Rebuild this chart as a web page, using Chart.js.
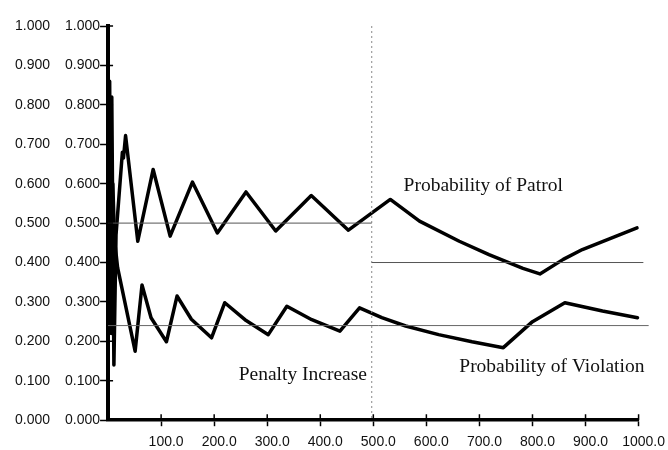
<!DOCTYPE html>
<html>
<head>
<meta charset="utf-8">
<script src="https://cdn.jsdelivr.net/npm/chart.js@4.4.1/dist/chart.umd.min.js"></script>
<style>
  html, body { margin: 0; padding: 0; background: #fff; }
  #wrap { width: 668px; height: 450px; }
</style>
</head>
<body>
<div id="wrap"><canvas id="c" width="668" height="450"></canvas></div>
<script>
// Penalty level on the x axis, probabilities on the y axis
const patrolX = [0, 4, 7, 11, 15, 27, 29, 33, 56, 85, 117, 159, 206, 260, 316, 383, 453, 532, 587, 662, 718, 782, 814, 858, 894, 997];
const patrolY = [0.93, 0.30, 0.82, 0.14, 0.47, 0.68, 0.665, 0.722, 0.454, 0.636, 0.467, 0.604, 0.475, 0.579, 0.480, 0.570, 0.482, 0.560, 0.505, 0.454, 0.420, 0.385, 0.371, 0.408, 0.433, 0.488];

const violationX = [0, 3, 6, 9, 12, 18, 51, 64, 81, 110, 130, 157, 195, 220, 258, 302, 337, 384, 437, 474, 516, 561, 623, 686, 745, 800, 861, 932, 998];
const violationY = [0.55, 0.86, 0.22, 0.60, 0.46, 0.387, 0.175, 0.343, 0.26, 0.199, 0.315, 0.256, 0.209, 0.298, 0.255, 0.217, 0.289, 0.255, 0.226, 0.285, 0.26, 0.239, 0.217, 0.199, 0.184, 0.25, 0.298, 0.277, 0.26];

// Equilibrium levels before and after the penalty increase
const patrolLevelX = [0, 497];
const patrolLevelY = [0.50, 0.50];
const patrolLevel2X = [497, 1009];
const patrolLevel2Y = [0.40, 0.40];
const violationLevelX = [0, 1019];
const violationLevelY = [0.24, 0.24];

// Moment of the penalty increase
const increaseX = [497, 497];
const increaseY = [1.0, 0.0];

// Axis ticks
const yTicks = [0, 0.1, 0.2, 0.3, 0.4, 0.5, 0.6, 0.7, 0.8, 0.9, 1.0];
const xTicks = [0, 100, 200, 300, 400, 500, 600, 700, 800, 900, 1000];

// Text labels placed in data units
const noteText = ['Probability of Patrol', 'Penalty Increase', 'Probability of Violation'];
const noteX = [557, 488, 1011];
const noteY = [0.581, 0.1015, 0.1226];
const noteAlign = ['left', 'right', 'right'];

const pts = (xs, ys) => xs.map((x, i) => ({ x, y: ys[i] }));

const tickFont = { family: 'Liberation Sans', size: 14 };

// Short tick marks crossing the axis lines into the plot area
const crossTicks = {
  id: 'crossTicks',
  afterDraw(chart) {
    const { ctx, scales } = chart;
    const xs = scales.x, ys = scales.y;
    ctx.save();
    ctx.strokeStyle = '#000';
    ctx.lineWidth = 1.5;
    ctx.beginPath();
    ys.ticks.forEach((t, i) => {
      const py = ys.getPixelForTick(i);
      ctx.moveTo(xs.left, py);
      ctx.lineTo(xs.left + 5, py);
    });
    xs.ticks.forEach((t, i) => {
      if (t.value === 0) return;
      const px = xs.getPixelForTick(i);
      ctx.moveTo(px, ys.bottom);
      ctx.lineTo(px, ys.bottom - 6);
    });
    ctx.stroke();
    ctx.restore();
  }
};

const notes = {
  id: 'notes',
  afterDatasetsDraw(chart) {
    const { ctx, scales } = chart;
    ctx.save();
    ctx.fillStyle = '#111';
    ctx.font = '19.5px "Liberation Serif"';
    ctx.textBaseline = 'alphabetic';
    noteText.forEach((t, i) => {
      ctx.textAlign = noteAlign[i];
      ctx.fillText(t, scales.x.getPixelForValue(noteX[i]), scales.y.getPixelForValue(noteY[i]));
    });
    ctx.restore();
  }
};

const thin = (data, color, dash) => ({
  data, borderColor: color, borderWidth: 1, borderDash: dash || [],
  pointRadius: 0, fill: false, clip: false, tension: 0
});

new Chart(document.getElementById('c'), {
  type: 'line',
  data: {
    datasets: [
      thin(pts(patrolLevelX, patrolLevelY), '#555'),
      thin(pts(patrolLevel2X, patrolLevel2Y), '#555'),
      thin(pts(violationLevelX, violationLevelY), '#666'),
      thin(pts(increaseX, increaseY), '#888', [2, 3]),
      {
        label: 'Probability of Patrol',
        data: pts(patrolX, patrolY),
        borderColor: '#000', borderWidth: 3.5, borderJoinStyle: 'round', borderCapStyle: 'round',
        pointRadius: 0, fill: false, tension: 0, clip: false
      },
      {
        label: 'Probability of Violation',
        data: pts(violationX, violationY),
        borderColor: '#000', borderWidth: 3.5, borderJoinStyle: 'round', borderCapStyle: 'round',
        pointRadius: 0, fill: false, tension: 0, clip: false
      }
    ]
  },
  options: {
    responsive: false,
    animation: false,
    events: [],
    layout: { padding: { left: 0, top: 26, right: 13, bottom: -9 } },
    plugins: { legend: { display: false }, tooltip: { enabled: false } },
    scales: {
      x: {
        type: 'linear', min: 0, max: 1000,
        afterBuildTicks: s => { s.ticks = xTicks.map(v => ({ value: v })); },
        border: { color: '#000', width: 3.5 },
        grid: { drawOnChartArea: false, tickLength: 6, tickWidth: 1.5,
                tickColor: c => c.tick && c.tick.value === 0 ? 'rgba(0,0,0,0)' : '#000' },
        ticks: {
          color: '#111', font: tickFont, padding: 8, labelOffset: 5, maxRotation: 0, autoSkip: false,
          callback: v => v === 0 ? '' : v.toFixed(1)
        }
      },
      y: {
        type: 'linear', position: 'left', min: 0, max: 1, weight: 0,
        afterBuildTicks: s => { s.ticks = yTicks.map(v => ({ value: v })); },
        border: { color: '#000', width: 4 },
        grid: { drawOnChartArea: false, tickLength: 8, tickWidth: 1.5, tickColor: '#000' },
        ticks: { color: '#111', font: tickFont, padding: 0, callback: v => v.toFixed(3) }
      },
      y2: {
        type: 'linear', position: 'left', min: 0, max: 1, weight: 1,
        afterBuildTicks: s => { s.ticks = yTicks.map(v => ({ value: v })); },
        border: { display: false },
        grid: { display: false, drawTicks: false, drawOnChartArea: false },
        ticks: { color: '#111', font: tickFont, padding: 15, callback: v => v.toFixed(3) }
      }
    }
  },
  plugins: [crossTicks, notes]
});
</script>
</body>
</html>
